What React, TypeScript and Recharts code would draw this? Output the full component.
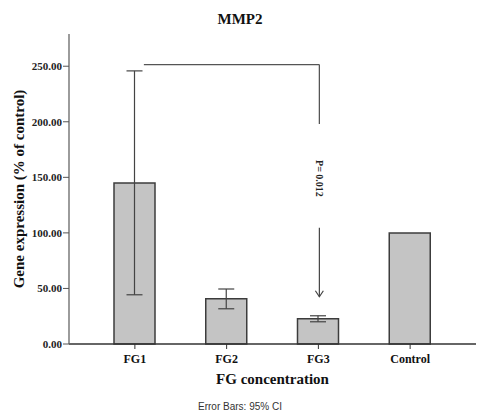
import {
  BarChart,
  Bar,
  XAxis,
  YAxis,
  ErrorBar,
  ReferenceLine,
  ReferenceDot,
} from "recharts";

const categories = ["FG1", "FG2", "FG3", "Control"];
const means = [145, 40.7, 22.8, 100];
// 95% CI bounds; Control has none
const ciLower = [44.3, 31.7, 20, null];
const ciUpper = [245.8, 49.5, 25.4, null];
const yTicks = [0, 50, 100, 150, 200, 250];

// significance bracket FG1 -> FG3
const bracketTop = 251.5;
const bracketEnd = 198;
const arrowStart = 104.6;
const arrowEnd = 42.5;
const pLabelY = 149;
const pLabel = "P= 0.012";

const SERIF = "'Liberation Serif', 'Times New Roman', serif";

const data = categories.map((name, i) => {
  const lo = ciLower[i];
  const hi = ciUpper[i];
  return {
    name,
    mean: means[i],
    err: lo == null || hi == null ? null : [means[i] - lo, hi - means[i]],
  };
});

const BracketTop = (props: any) => {
  const { x1, y1, x2, y2 } = props;
  return (
    <line x1={x1 + 9} y1={y1} x2={x2 + 1} y2={y2} stroke="#555" strokeWidth={1.3} />
  );
};

const BracketDown = (props: any) => {
  const { x1, y1, x2, y2 } = props;
  return (
    <line x1={x1 + 1} y1={y1} x2={x2 + 1} y2={y2} stroke="#555" strokeWidth={1.3} />
  );
};

const Arrow = (props: any) => {
  const { x1, y1, x2, y2 } = props;
  const x = x1 + 1;
  const top = Math.min(y1, y2);
  const bottom = Math.max(y1, y2);
  return (
    <g stroke="#444" strokeWidth={1.2} fill="none">
      <line x1={x} y1={top} x2={x2 + 1} y2={bottom} />
      <polyline points={`${x - 4},${bottom - 6} ${x},${bottom} ${x + 4},${bottom - 6}`} />
    </g>
  );
};

const PText = ({ viewBox }: any) => {
  const x = viewBox.x + viewBox.width / 2 + 1;
  const y = viewBox.y + viewBox.height / 2;
  return (
    <text
      x={x}
      y={y}
      transform={`rotate(90 ${x} ${y})`}
      textAnchor="middle"
      dominantBaseline="central"
      fontFamily={SERIF}
      fontWeight="bold"
      fontSize={10}
      fill="#222"
    >
      {pLabel}
    </text>
  );
};

const YLabel = ({ viewBox }: any) => {
  const x = viewBox.x + 19;
  const y = viewBox.y + viewBox.height / 2;
  return (
    <text
      x={x}
      y={y}
      transform={`rotate(-90 ${x} ${y})`}
      textAnchor="middle"
      dominantBaseline="central"
      fontFamily={SERIF}
      fontWeight="bold"
      fontSize={15}
      fill="#111"
    >
      Gene expression (% of control)
    </text>
  );
};

export default function App() {
  return (
    <div
      style={{
        position: "absolute",
        top: 0,
        left: 0,
        width: 480,
        height: 412,
        background: "#fff",
      }}
    >
      <div
        style={{
          position: "absolute",
          top: 12,
          left: 0,
          width: 480,
          textAlign: "center",
          fontFamily: SERIF,
          fontWeight: "bold",
          fontSize: 15,
          lineHeight: "15px",
          color: "#111",
        }}
      >
        MMP2
      </div>
      <BarChart
        width={480}
        height={412}
        data={data}
        margin={{ top: 34, right: 4, left: 0, bottom: 28 }}
      >
        <XAxis
          dataKey="name"
          padding={{ left: 20, right: 20 }}
          height={40}
          tickSize={5}
          tickMargin={5}
          axisLine={{ stroke: "#333", strokeWidth: 1.3 }}
          tickLine={{ stroke: "#333" }}
          tick={{ fontFamily: SERIF, fontWeight: "bold", fontSize: 12, fill: "#111" }}
          label={{
            value: "FG concentration",
            position: "insideBottom",
            offset: 0,
            fontFamily: SERIF,
            fontWeight: "bold",
            fontSize: 15,
            fill: "#111",
          }}
        />
        <XAxis
          xAxisId="top"
          orientation="top"
          dataKey="name"
          height={0}
          tick={false}
          tickLine={false}
          axisLine={{ stroke: "#666", strokeWidth: 1.3 }}
        />
        <YAxis
          width={69}
          domain={[0, 279]}
          ticks={yTicks}
          tickSize={6}
          tickMargin={1}
          tickFormatter={(v: number) => v.toFixed(2)}
          axisLine={{ stroke: "#666", strokeWidth: 1.3 }}
          tickLine={{ stroke: "#555" }}
          tick={{ fontFamily: SERIF, fontWeight: "bold", fontSize: 11, fill: "#222" }}
          label={{ content: YLabel }}
        />
        <YAxis
          yAxisId="right"
          orientation="right"
          width={0}
          domain={[0, 279]}
          tick={false}
          tickLine={false}
          axisLine={{ stroke: "#666", strokeWidth: 1.3 }}
        />
        <Bar
          dataKey="mean"
          fill="#c4c4c4"
          stroke="#3c3c3c"
          strokeWidth={1.5}
          barSize={41}
          isAnimationActive={false}
        >
          <ErrorBar
            dataKey="err"
            width={8}
            stroke="#444"
            strokeWidth={1.2}
            isAnimationActive={false}
          />
        </Bar>
        <ReferenceLine
          segment={[
            { x: "FG1", y: bracketTop },
            { x: "FG3", y: bracketTop },
          ]}
          shape={BracketTop}
        />
        <ReferenceLine
          segment={[
            { x: "FG3", y: bracketTop },
            { x: "FG3", y: bracketEnd },
          ]}
          shape={BracketDown}
        />
        <ReferenceLine
          segment={[
            { x: "FG3", y: arrowStart },
            { x: "FG3", y: arrowEnd },
          ]}
          shape={Arrow}
        />
        <ReferenceDot
          x="FG3"
          y={pLabelY}
          r={0}
          fill="none"
          stroke="none"
          label={{ content: PText }}
        />
      </BarChart>
      <div
        style={{
          position: "absolute",
          top: 402,
          left: 0,
          width: 480,
          textAlign: "center",
          fontFamily: "'Liberation Sans', Arial, sans-serif",
          fontSize: 10,
          lineHeight: "10px",
          color: "#333",
        }}
      >
        Error Bars: 95% CI
      </div>
    </div>
  );
}
